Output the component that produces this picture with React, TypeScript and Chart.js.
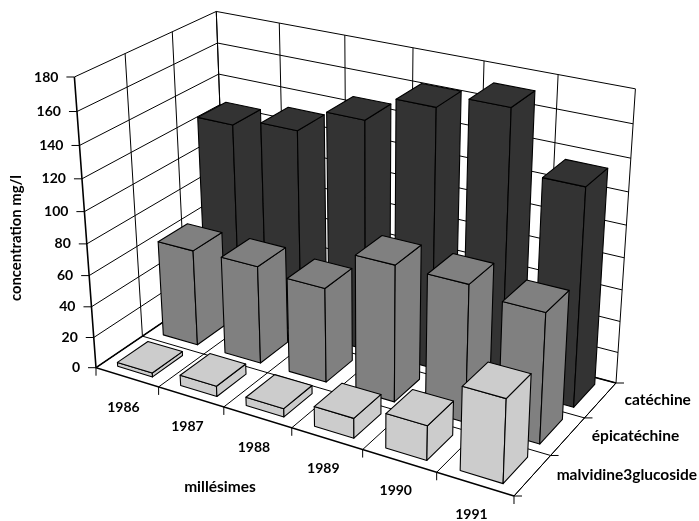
import React, { useEffect, useRef } from "react";
import { Chart, BarController, BarElement, CategoryScale, LinearScale } from "chart.js";

const vintages = ["1986", "1987", "1988", "1989", "1990", "1991"];
const compounds = ["malvidine3glucoside", "épicatéchine", "catéchine"];
const malvidine = [2.6, 6.7, 5.3, 12.5, 21.4, 51];
const epicatechine = [62.3, 62.9, 60.3, 85.8, 85.3, 80.1];
const catechine = [126, 131.2, 146.5, 162.7, 171.2, 134.8];
const valueTicks = { min: 0, max: 180, step: 20 };
const faceColors = ["#cccccc", "#808080", "#333333"];

const NUMBER_FONT = "bold 14px Lato, sans-serif";
const WORD_FONT = "bold 15.5px Lato, sans-serif";
const VALUE_TITLE_FONT = "bold 14.8px Lato, sans-serif";

// Projective camera: rows give screen x, screen y and w for
// (width fraction, depth fraction, height fraction, 1).
const CAMERA = [
  [356.82, 154.13, -27, 96],
  [69.27, -59.59, -296.3, 367.7],
  [-0.11902, 0.10434, -0.0726, 1],
];
const project = (u: number, v: number, z: number): [number, number] => {
  const row = (r: number[]) => r[0] * u + r[1] * v + r[2] * z + r[3];
  const w = row(CAMERA[2]);
  return [row(CAMERA[0]) / w, row(CAMERA[1]) / w];
};

const COLUMN_WIDTH = 0.093;
const COLUMN_DEPTH = 0.22;

const fraction = (scale: any, value: number) =>
  scale.getDecimalForPixel(scale.getPixelForValue(value));

function polyline(ctx: CanvasRenderingContext2D, pts: [number, number][], width = 1) {
  ctx.beginPath();
  pts.forEach((p, i) => (i ? ctx.lineTo(p[0], p[1]) : ctx.moveTo(p[0], p[1])));
  ctx.lineWidth = width;
  ctx.strokeStyle = "#000";
  ctx.stroke();
}

function face(ctx: CanvasRenderingContext2D, pts: [number, number][], fill: string) {
  ctx.beginPath();
  pts.forEach((p, i) => (i ? ctx.lineTo(p[0], p[1]) : ctx.moveTo(p[0], p[1])));
  ctx.closePath();
  ctx.fillStyle = fill;
  ctx.fill();
  ctx.lineWidth = 1.1;
  ctx.lineJoin = "round";
  ctx.strokeStyle = "#000";
  ctx.stroke();
}

// Bar controller whose columns are drawn as projected boxes; rows are painted
// back to front by the chart, columns left to right here.
class Column3DController extends BarController {
  static id = "column3d";
  static defaults = BarController.defaults;
  static overrides = BarController.overrides;

  draw() {
    const { ctx, scales } = this.chart;
    const dataset = this.getDataset() as any;
    const v = fraction(scales.depth, this.index);
    (dataset.data as number[]).forEach((value, i) => {
      const u = fraction(scales.x, i);
      const z = fraction(scales.y, value);
      const u0 = u - COLUMN_WIDTH / 2;
      const u1 = u + COLUMN_WIDTH / 2;
      const v0 = v - COLUMN_DEPTH / 2;
      const v1 = v + COLUMN_DEPTH / 2;
      face(ctx, [project(u0, v0, 0), project(u1, v0, 0), project(u1, v0, z), project(u0, v0, z)], dataset.backgroundColor);
      face(ctx, [project(u1, v0, 0), project(u1, v1, 0), project(u1, v1, z), project(u1, v0, z)], dataset.backgroundColor);
      face(ctx, [project(u0, v0, z), project(u1, v0, z), project(u1, v1, z), project(u0, v1, z)], dataset.backgroundColor);
    });
  }
}

// Walls, floor, ticks and every label of the box around the columns.
const boxPlugin = {
  id: "box3d",
  beforeDatasetsDraw(chart: any) {
    const { ctx, scales } = chart;
    const { x, y, depth } = scales;
    ctx.save();
    ctx.lineCap = "butt";

    const heights: number[] = y.ticks.map((t: any) => fraction(y, t.value));
    heights.forEach((z) => {
      polyline(ctx, [project(0, 0, z), project(0, 1, z), project(1, 1, z)], z === 0 ? 1.6 : 1);
    });
    const uEdges = [0, ...vintages.map((_, i) => fraction(x, i + 0.5))];
    const vEdges = [0, ...compounds.map((_, i) => fraction(depth, i + 0.5))];
    uEdges.forEach((u) => {
      polyline(ctx, [project(u, 0, 0), project(u, 1, 0), project(u, 1, 1)]);
    });
    vEdges.forEach((v) => {
      polyline(ctx, [project(0, v, 1), project(0, v, 0), project(1, v, 0)], v === 0 ? 1.6 : 1);
    });
    polyline(ctx, [project(1, 0, 0), project(1, 1, 0)]);

    ctx.fillStyle = "#000";
    ctx.textBaseline = "middle";
    ctx.font = NUMBER_FONT;

    // Value axis
    ctx.textAlign = "right";
    y.ticks.forEach((t: any) => {
      const [px, py] = project(0, 0, fraction(y, t.value));
      polyline(ctx, [[px - 8, py], [px, py]]);
      ctx.fillText(String(t.value), px - 16, py);
    });

    // Vintage axis
    uEdges.forEach((u) => {
      const [px, py] = project(u, 0, 0);
      polyline(ctx, [[px, py], [px, py + 8]]);
    });
    ctx.textAlign = "center";
    vintages.forEach((label, i) => {
      const [px, py] = project(fraction(x, i), 0, 0);
      ctx.fillText(label, px - 3.5, py + 30);
    });

    // Compound axis
    vEdges.forEach((v) => {
      const [px, py] = project(1, v, 0);
      polyline(ctx, [[px, py], [px + 8, py]]);
    });
    ctx.font = WORD_FONT;
    ctx.textAlign = "left";
    compounds.forEach((label, i) => {
      const [px, py] = project(1, fraction(depth, i), 0);
      ctx.fillText(label, px + 24, py);
    });

    // Axis titles
    ctx.textAlign = "center";
    ctx.fillText("millésimes", 220, 487);
    ctx.font = VALUE_TITLE_FONT;
    ctx.translate(16, 238);
    ctx.rotate(-Math.PI / 2);
    ctx.fillText("concentration mg/l", 0, 0);
    ctx.restore();
  },
};

Chart.register(Column3DController, BarController, BarElement, CategoryScale, LinearScale);

export default function App() {
  const ref = useRef<HTMLCanvasElement>(null);
  useEffect(() => {
    const series = [malvidine, epicatechine, catechine];
    const chart = new Chart(ref.current!, {
      type: "column3d" as any,
      data: {
        labels: vintages,
        datasets: compounds.map((label, i) => ({
          label,
          data: series[i],
          backgroundColor: faceColors[i],
        })),
      },
      options: {
        responsive: false,
        animation: false,
        layout: { padding: 0 },
        plugins: { legend: { display: false }, tooltip: { enabled: false } },
        scales: {
          x: { type: "category", display: false, offset: true },
          depth: { type: "category", axis: "x", display: false, offset: true, labels: compounds },
          y: {
            type: "linear",
            display: false,
            min: valueTicks.min,
            max: valueTicks.max,
            ticks: { stepSize: valueTicks.step },
          },
        },
      } as any,
      plugins: [boxPlugin],
    });
    return () => chart.destroy();
  }, []);
  return (
    <div style={{ position: "absolute", left: 0, top: 0, width: 699, height: 521, background: "#fff" }}>
      <canvas ref={ref} width={699} height={521} style={{ display: "block" }} />
    </div>
  );
}
